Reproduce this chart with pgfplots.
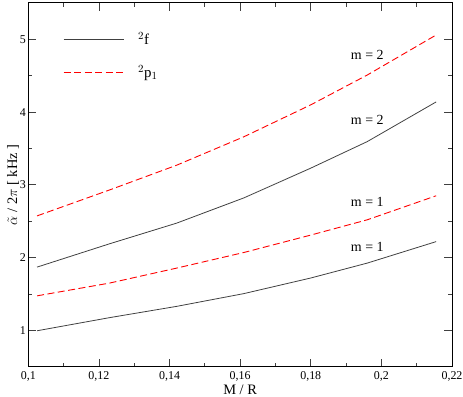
\documentclass[border=0pt]{standalone}
\usepackage{pgfplots}
\pgfplotsset{compat=1.18}
\usepackage{fontspec}
\setmainfont{Liberation Serif}
\definecolor{darkline}{gray}{0.25}
\begin{document}
\begin{tikzpicture}
\begin{axis}[
  name=ax,
  scale only axis,
  width=424bp, height=364bp,
  xmin=0.1, xmax=0.22, ymin=0.5, ymax=5.5,
  xtick={0.1,0.12,0.14,0.16,0.18,0.2,0.22},
  minor x tick num=1,
  ytick={1,2,3,4,5},
  minor y tick num=1,
  tick align=inside,
  major tick length=8bp,
  minor tick length=4bp,
  tick style={darkline, line width=0.8pt},
  axis line style={line width=1pt},
  /pgf/number format/.cd, use comma, fixed, assume math mode=true,
  /pgfplots/.cd,
  tick label style={font=\fontsize{12}{13}\selectfont},
  xticklabel style={yshift=-1bp},
  yticklabel style={xshift=1bp},
  label style={font=\fontsize{14.5}{16}\selectfont},
  xlabel={M / R},
  ylabel={$\tilde{\alpha}$ / 2$\pi$ [ kHz ]},
  xlabel style={yshift=3bp},
  ylabel style={yshift=-6bp},
  legend style={draw=none, fill=none, at={(rel axis cs:0.075,0.93)}, anchor=north west,
    font=\fontsize{15}{17}\selectfont, row sep=15bp,
    /tikz/every odd column/.append style={column sep=12bp}},
  legend cell align=left,
  legend image code/.code={\draw[#1] (0bp,0bp) -- (60bp,0bp);},
]
\addplot[color=darkline, line width=0.8pt] coordinates {
 (0.1025,0.995) (0.123,1.175) (0.142,1.33) (0.161,1.505) (0.180,1.72) (0.196,1.925) (0.2155,2.22)};
\addlegendentry{$^2$f}
\addplot[color=red, dash pattern=on 7bp off 3.5bp, line width=0.9pt] coordinates {
 (0.1025,1.475) (0.123,1.65) (0.142,1.856) (0.161,2.07) (0.180,2.31) (0.196,2.52) (0.2155,2.85)};
\addlegendentry{$^2$p$_1$}
\addplot[color=darkline, line width=0.8pt, forget plot] coordinates {
 (0.1025,1.87) (0.123,2.19) (0.142,2.474) (0.161,2.82) (0.180,3.23) (0.196,3.595) (0.2155,4.14)};
\addplot[color=red, dash pattern=on 7bp off 3.5bp, line width=0.9pt, forget plot] coordinates {
 (0.1025,2.574) (0.123,2.93) (0.142,3.27) (0.161,3.66) (0.180,4.10) (0.196,4.51) (0.2155,5.06)};
\node[font=\fontsize{14}{16}\selectfont] at (axis cs:0.196,4.786) {m = 2};
\node[font=\fontsize{14}{16}\selectfont] at (axis cs:0.196,3.89) {m = 2};
\node[font=\fontsize{14}{16}\selectfont] at (axis cs:0.196,2.77) {m = 1};
\node[font=\fontsize{14}{16}\selectfont] at (axis cs:0.196,2.15) {m = 1};
\end{axis}
\pgfresetboundingbox
\path ([xshift=-28.3bp,yshift=-30bp]ax.south west) rectangle ([xshift=11bp,yshift=3bp]ax.north east);
\end{tikzpicture}
\end{document}
